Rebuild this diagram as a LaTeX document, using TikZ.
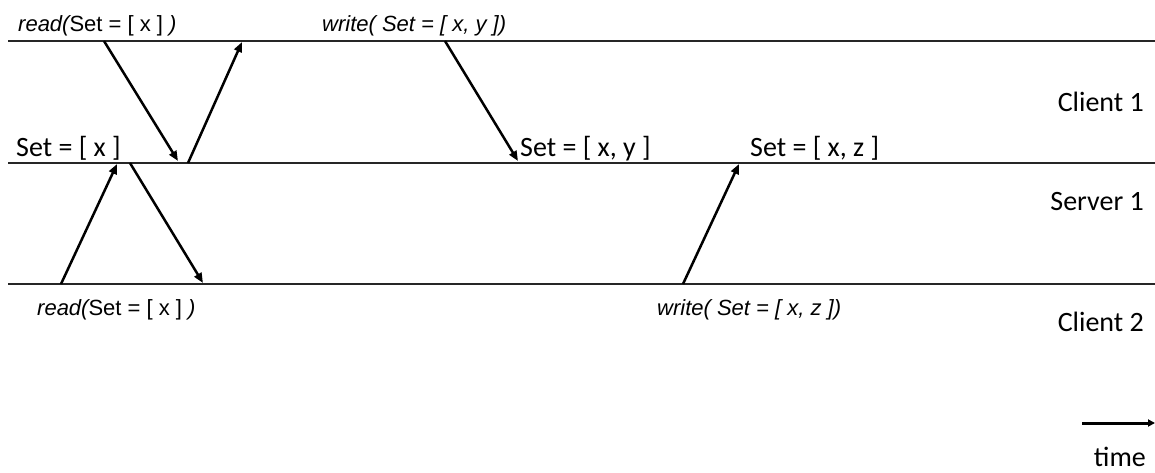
\documentclass[tikz,border=0pt]{standalone}
\usepackage{fontspec}
\setmainfont{Carlito}
\newfontfamily\arialfont{Liberation Sans}
\usetikzlibrary{arrows.meta, positioning}

\begin{document}
\begin{tikzpicture}[x=1pt, y=-1pt]
                        \tikzset{
                            timeline/.style={line width=1.4pt, draw=black!85},
                            message/.style={line width=2.5pt, -{Triangle[length=10pt, width=8pt]}},
                            call label/.style={font=\fontsize{22}{26}\selectfont\arialfont, anchor=base west, inner sep=0pt},
                            state label/.style={font=\fontsize{28}{32}\selectfont, anchor=base west, inner sep=0pt},
                            process label/.style={font=\fontsize{28}{32}\selectfont, anchor=base east, inner sep=0pt}
                        }
                        \useasboundingbox (0,0) rectangle (1155,473);

                        % --- timelines ---
                        \draw[timeline] (8,41) -- (1155,41);
                        \draw[timeline] (8,163) -- (1155,163);
                        \draw[timeline] (8,284) -- (1155,284);

                        \node[process label] (client1) at (1144,112) {Client 1};
                        \node[process label] (server1) at (1144,210) {Server 1};
                        \node[process label] (client2) at (1144,331) {Client 2};

                        % --- events on the timelines ---
                        \coordinate (readA) at (104,41);
                        \coordinate (readA srv) at (178,161);
                        \coordinate (readA ack) at (188,163);
                        \coordinate (readA back) at (242,42);
                        \coordinate (writeY) at (445,41);
                        \coordinate (writeY srv) at (518,161);
                        \coordinate (readB) at (61,284);
                        \coordinate (readB srv) at (117,164);
                        \coordinate (readB ack) at (130,163);
                        \coordinate (readB back) at (203,283);
                        \coordinate (writeZ) at (683,284);
                        \coordinate (writeZ srv) at (739,164);

                        \draw[message] (readA) -- (readA srv);
                        \draw[message] (readA ack) -- (readA back);
                        \draw[message] (writeY) -- (writeY srv);
                        \draw[message] (readB) -- (readB srv);
                        \draw[message] (readB ack) -- (readB back);
                        \draw[message] (writeZ) -- (writeZ srv);

                        % --- labels ---
                        \node[call label] (read1) at (18,32) {\itshape read(\upshape Set = [ x ] \itshape)};
                        \node[call label] (write1) at (322,32) {\itshape write( Set = [ x, y ])};
                        \node[call label] (read2) at (37,315) {\itshape read(\upshape Set = [ x ] \itshape)};
                        \node[call label] (write2) at (657,315) {\itshape write( Set = [ x, z ])};

                        \node[state label] (set x) at (16,157) {Set = [ x ]};
                        \node[state label] (set xy) at (520,157) {Set = [ x, y ]};
                        \node[state label] (set xz) at (750,157) {Set = [ x, z ]};

                        % --- time axis ---
                        \coordinate (time start) at (1082,423);
                        \coordinate (time end) at (1155,423);
                        \draw[line width=3pt, -{Triangle[length=7pt, width=7pt]}] (time start) -- (time end);
                        \node[process label] (time) at (1146,466) {time};
\end{tikzpicture}
\end{document}
